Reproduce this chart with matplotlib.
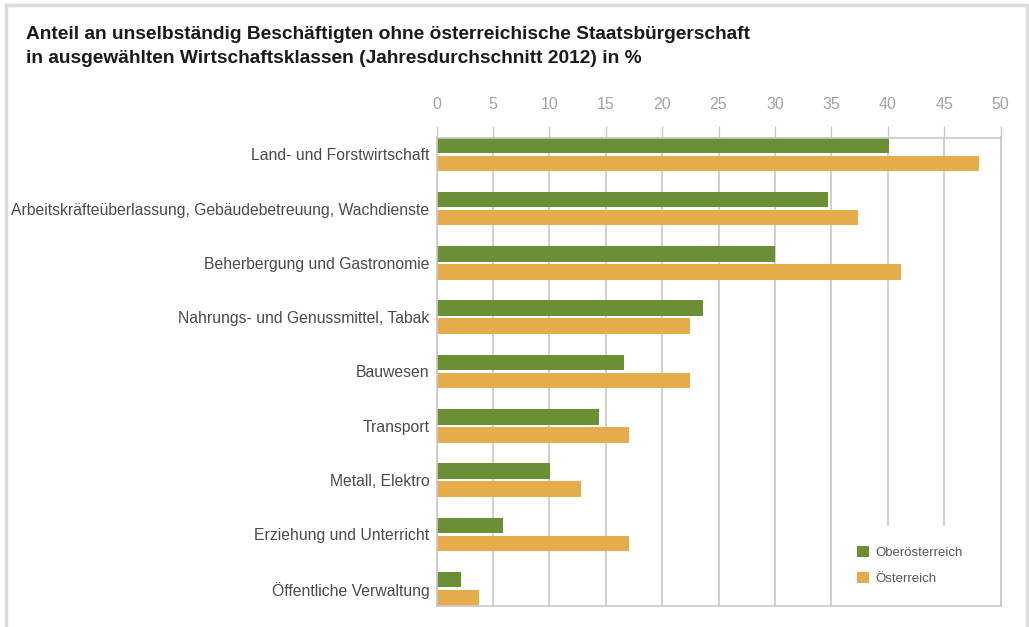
import matplotlib
matplotlib.use("Agg")
import matplotlib.pyplot as plt
from matplotlib.lines import Line2D
import numpy as np

categories = [
    "Land- und Forstwirtschaft",
    "Arbeitskräfteüberlassung, Gebäudebetreuung, Wachdienste",
    "Beherbergung und Gastronomie",
    "Nahrungs- und Genussmittel, Tabak",
    "Bauwesen",
    "Transport",
    "Metall, Elektro",
    "Erziehung und Unterricht",
    "Öffentliche Verwaltung",
]
oberoesterreich = [40.1, 34.7, 30.0, 23.6, 16.6, 14.4, 10.1, 5.9, 2.2]
oesterreich = [48.1, 37.4, 41.2, 22.5, 22.5, 17.1, 12.8, 17.1, 3.8]
series_names = ["Oberösterreich", "Österreich"]
xticks = [0, 5, 10, 15, 20, 25, 30, 35, 40, 45, 50]
title_lines = [
    "Anteil an unselbständig Beschäftigten ohne österreichische Staatsbürgerschaft",
    "in ausgewählten Wirtschaftsklassen (Jahresdurchschnitt 2012) in %",
]

GREEN = "#6a8f35"
GOLD = "#e6ab4a"
GRID = "#c8c8c8"
FONT = ["Liberation Sans", "DejaVu Sans"]

W, H = 1029, 627
fig = plt.figure(figsize=(W / 100, H / 100), dpi=100)
fig.patch.set_facecolor("white")

# axes placement in pixels
ax_l, ax_r, ax_t, ax_b = 436.5, 1000.5, 137.5, 605.5
ax = fig.add_axes([ax_l / W, 1 - ax_b / H, (ax_r - ax_l) / W, (ax_b - ax_t) / H])

pitch_px = 54.3
h = 15.5 / pitch_px
off = 9.0 / pitch_px
y = np.arange(len(categories))

ax.barh(y - off, oberoesterreich, height=h, color=GREEN, label=series_names[0], zorder=2)
ax.barh(y + off, oesterreich, height=h, color=GOLD, label=series_names[1], zorder=2)

ax.set_xlim(0, 50)
ax.set_ylim(len(categories) - 1 + off + h / 2, -off - h / 2)
ax.set_xticks(xticks)
ax.set_xticklabels([str(t) for t in xticks])
ax.set_yticks(y)
ax.set_yticklabels(categories)

ax.xaxis.tick_top()
ax.tick_params(axis="x", length=8.3, width=1, color=GRID, labelsize=11.5,
               labelcolor="#a3a3a3", pad=10)
for lbl in ax.get_xticklabels():
    lbl.set_family(FONT)
ax.tick_params(axis="y", length=0, pad=5, labelsize=11.3, labelcolor="#4a4a4a")
for lbl in ax.get_yticklabels():
    lbl.set_family(FONT)

ax.grid(axis="x", color=GRID, lw=1.2, zorder=0)
ax.set_axisbelow(True)
for s in ax.spines.values():
    s.set_color(GRID)
    s.set_linewidth(1.2)
    s.set_zorder(6)

leg = ax.legend(loc="lower left", bbox_to_anchor=(0.710, 0.0), borderaxespad=0,
                frameon=True, facecolor="white", edgecolor="none", framealpha=1,
                fancybox=False, borderpad=1.55, handlelength=0.85, handleheight=0.85,
                handletextpad=0.5, labelspacing=1.0,
                prop={"family": FONT, "size": 9.5})
for t in leg.get_texts():
    t.set_color("#555555")
leg.set_zorder(5)

fig.text(26 / W, 1 - 39 / H, title_lines[0], fontsize=13.8, fontweight="bold",
         family=FONT, color="#1a1a1a", va="baseline", ha="left")
fig.text(26 / W, 1 - 63 / H, title_lines[1], fontsize=13.8, fontweight="bold",
         family=FONT, color="#1a1a1a", va="baseline", ha="left")

# outer frame
FR = "#dcdcdc"
fig.add_artist(Line2D([5.5 / W, 5.5 / W], [0, 1 - 5 / H], color=FR, lw=2.5, transform=fig.transFigure))
fig.add_artist(Line2D([5.5 / W, 1026.5 / W], [1 - 5 / H, 1 - 5 / H], color=FR, lw=2.5, transform=fig.transFigure))
fig.add_artist(Line2D([1026.5 / W, 1026.5 / W], [0, 1 - 5 / H], color=FR, lw=2.5, transform=fig.transFigure))

fig.savefig("out.png", dpi=100)
